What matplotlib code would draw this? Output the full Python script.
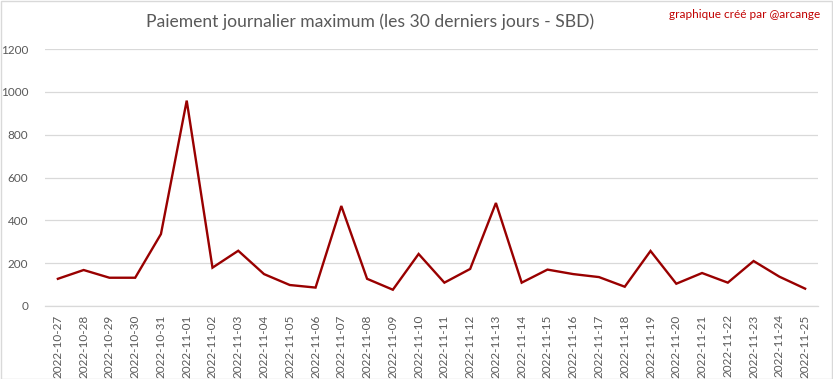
import matplotlib
matplotlib.use("Agg")
import matplotlib.pyplot as plt
from matplotlib.patches import Rectangle

dates = ["2022-10-27", "2022-10-28", "2022-10-29", "2022-10-30", "2022-10-31",
         "2022-11-01", "2022-11-02", "2022-11-03", "2022-11-04", "2022-11-05",
         "2022-11-06", "2022-11-07", "2022-11-08", "2022-11-09", "2022-11-10",
         "2022-11-11", "2022-11-12", "2022-11-13", "2022-11-14", "2022-11-15",
         "2022-11-16", "2022-11-17", "2022-11-18", "2022-11-19", "2022-11-20",
         "2022-11-21", "2022-11-22", "2022-11-23", "2022-11-24", "2022-11-25"]
values = [127, 168, 132, 132, 336, 959, 179, 258, 149, 98,
          86, 467, 127, 76, 243, 109, 173, 481, 109, 170,
          149, 135, 90, 257, 104, 154, 109, 210, 137, 81]
yticks = [0, 200, 400, 600, 800, 1000, 1200]

title = "Paiement journalier maximum (les 30 derniers jours - SBD)"
credit = "graphique créé par @arcange"

plt.rcParams['font.family'] = ['Lato', 'DejaVu Sans']

W, H = 833, 379
fig = plt.figure(figsize=(W / 100, H / 100), dpi=100)
ax = fig.add_axes([45 / W, 1 - 306 / H, (818 - 45) / W, (306 - 49) / H])

x = list(range(len(dates)))
ax.plot(x, values, color="#990000", linewidth=1.7, solid_joinstyle="miter")

ax.set_xlim(-0.5, len(dates) - 0.5)
ax.set_ylim(0, 1200)
ax.set_yticks(yticks)
ax.set_yticklabels([str(v) for v in yticks])
ax.set_xticks(x)
ax.set_xticklabels(dates, rotation=90)
ax.tick_params(axis="both", length=0, colors="#595959", labelsize=8.5)
ax.tick_params(axis="y", pad=12)
ax.tick_params(axis="x", pad=6)
ax.grid(axis="y", color="#d9d9d9", linewidth=0.9)
ax.set_axisbelow(True)
for s in ["top", "right", "left"]:
    ax.spines[s].set_visible(False)
ax.spines["bottom"].set_color("#d9d9d9")
ax.spines["bottom"].set_linewidth(0.9)

fig.text(370 / W, 1 - 22 / H, title, ha="center", va="center",
         fontsize=12.6, color="#595959")
fig.text(820 / W, 1 - 15 / H, credit, ha="right", va="center",
         fontsize=8.5, color="#c00000")

fig.patches.append(Rectangle((0.5 / W, 0.5 / H), 1 - 1.5 / W, 1 - 1.5 / H,
                             transform=fig.transFigure, fill=False,
                             edgecolor="#d9d9d9", linewidth=1))

fig.savefig("out.png", dpi=100)
